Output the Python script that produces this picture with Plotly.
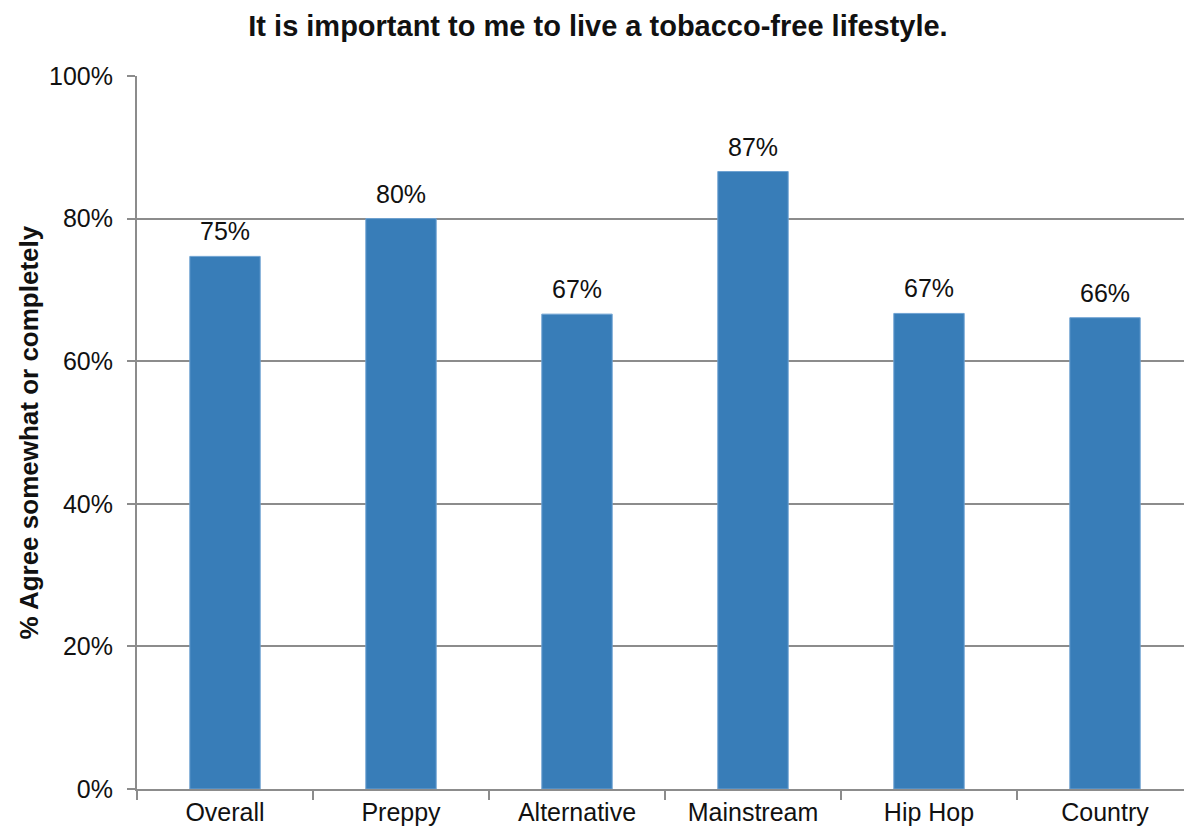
import plotly.graph_objects as go

# Survey results by peer crowd
categories = ["Overall", "Preppy", "Alternative", "Mainstream", "Hip Hop", "Country"]
agree_share = [0.747, 0.800, 0.666, 0.866, 0.667, 0.661]
y_ticks = [0, 0.2, 0.4, 0.6, 0.8, 1.0]
y_tick_labels = ["0%", "20%", "40%", "60%", "80%", "100%"]

FONT = "Arial, 'Liberation Sans', sans-serif"
W, H = 1184, 834
M_L, M_R, M_T, M_B = 137, 0, 76, 45
CAT_PX = 176  # width of one category slot in pixels
plot_w = W - M_L - M_R
TXT = 25

fig = go.Figure(
    go.Bar(
        x=categories,
        y=agree_share,
        width=0.4,
        marker=dict(color="#387DB8", line=dict(color="#6FA3D2", width=1)),
        hoverinfo="skip",
    )
)

# value labels above each bar, formatted from the bar values
value_labels = [
    dict(
        x=cat,
        y=val,
        text=f"{val:.0%}",
        xref="x",
        yref="y",
        xanchor="center",
        yanchor="bottom",
        yshift=9,
        showarrow=False,
        font=dict(family=FONT, size=TXT, color="#111111"),
    )
    for cat, val in zip(categories, agree_share)
]

fig.update_layout(
    width=W,
    height=H,
    margin=dict(l=M_L, r=M_R, t=M_T, b=M_B),
    paper_bgcolor="white",
    plot_bgcolor="white",
    showlegend=False,
    font=dict(family=FONT, size=TXT, color="#111111"),
    title=dict(
        text="<b>It is important to me to live a tobacco-free lifestyle.</b>",
        x=598 / W,
        xanchor="center",
        y=1 - 26 / H,
        yanchor="middle",
        font=dict(family=FONT, size=29, color="#111111"),
    ),
    annotations=value_labels
    + [
        dict(
            text="<b>% Agree somewhat or completely</b>",
            textangle=-90,
            xref="paper",
            yref="paper",
            x=-(M_L - 28) / plot_w,
            y=0.5,
            xanchor="center",
            yanchor="middle",
            showarrow=False,
            font=dict(family=FONT, size=26, color="#111111"),
        )
    ],
)

fig.update_xaxes(
    type="category",
    range=[-0.5, -0.5 + plot_w / CAT_PX],
    showline=True,
    linecolor="#8C8C8C",
    linewidth=2,
    ticks="outside",
    tickson="boundaries",
    ticklen=9,
    tickwidth=2,
    tickcolor="#8C8C8C",
    tickfont=dict(family=FONT, size=TXT, color="#111111"),
    showgrid=False,
    zeroline=False,
)

fig.update_yaxes(
    range=[0, 1.0],
    tickvals=y_ticks,
    ticktext=y_tick_labels,
    showline=True,
    linecolor="#8C8C8C",
    linewidth=2,
    ticks="outside",
    ticklen=8,
    tickwidth=2,
    tickcolor="#8C8C8C",
    ticklabelstandoff=9,
    tickfont=dict(family=FONT, size=TXT, color="#111111"),
    showgrid=True,
    gridcolor="#8C8C8C",
    gridwidth=2,
    zeroline=False,
)

fig.write_html("out.html")
